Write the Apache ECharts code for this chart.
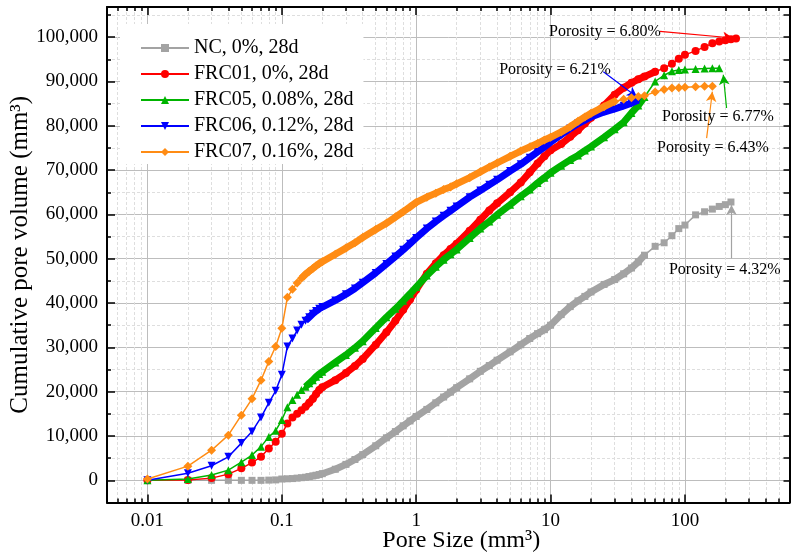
<!DOCTYPE html>
<html><head><meta charset="utf-8">
<script src="https://cdn.jsdelivr.net/npm/echarts@6/dist/echarts.min.js"></script>
<style>html,body{margin:0;padding:0;background:#fff}#c{width:797px;height:557px}</style>
</head><body><div id="c"></div>
<script>
// Pore size (mm^3) sample positions
const poreSizes = [0.01,0.02,0.03,0.04,0.05,0.06,0.07,0.08,0.09,0.1,
  0.11,0.12,0.13,0.14,0.15,0.16,0.17,0.18,0.19,0.2,
  0.25,0.3,0.35,0.4,0.5,0.6,0.7,0.8,0.9,1,
  1.2,1.4,1.6,1.8,2,2.5,3,3.5,4,5,
  6,7,8,9,10,12,14,16,18,20,
  25,30,35,40,45,50,60,70,80,90,
  100,120,140,160,180,200,220,240];

// Cumulative pore volume, thousands of mm^3
const ncVolume = [0,0,0,0,0,0,0,0.05,0.1,0.3,
  0.35,0.4,0.5,0.6,0.7,0.85,1.0,1.15,1.3,1.5,
  2.5,3.6,4.7,5.8,7.8,9.6,11.0,12.3,13.4,14.4,
  16.0,17.5,18.8,19.9,20.9,22.9,24.6,25.9,27.1,29.0,
  30.6,32.0,33.1,34.0,35.0,37.4,39.2,40.5,41.5,42.5,
  44.2,45.3,46.6,47.9,49.3,50.8,52.8,53.6,55.2,56.8,
  57.6,59.9,60.6,61.2,61.8,62.2,62.8];
const frc01Volume = [0,0.1,0.5,1.4,2.7,4.0,5.3,7.2,8.7,10.5,
  12.8,14.2,15.0,15.8,16.6,17.5,18.4,19.5,20.4,21.0,
  22.6,24.2,25.8,27.4,30.6,33.4,36.0,38.5,40.8,43.0,
  46.6,49.0,50.8,52.2,53.4,56.3,58.8,60.9,62.5,65.0,
  67.2,69.5,71.5,73.1,74.5,75.9,77.5,79.0,80.5,81.8,
  84.6,87.0,88.6,89.7,90.5,91.1,92.2,93.0,94.0,95.1,
  96.0,96.9,97.8,98.6,99.0,99.3,99.5,99.7];
const frc05Volume = [0,0.3,1.2,2.3,4.1,5.7,7.6,9.8,11.2,13.6,
  16.5,18.1,19.3,20.4,21.1,21.9,22.6,23.4,24.0,24.5,
  26.6,28.3,29.9,31.4,34.4,36.8,38.7,40.5,42.1,43.6,
  46.2,48.2,49.8,51.0,52.1,54.7,56.8,58.4,59.9,62.2,
  64.1,65.6,67.1,68.3,69.4,71.0,72.3,73.3,74.4,75.3,
  77.4,79.2,80.8,82.9,84.6,86.5,90.0,91.4,92.3,92.6,
  92.7,92.8,92.9,93.0,93.0];
const frc06Volume = [0,1.6,3.3,5.3,8.4,11.0,14.2,17.5,20.2,23.8,
  30.2,32.0,33.8,35.1,36.0,36.8,37.6,38.2,38.7,39.1,
  40.6,42.0,43.3,44.6,46.8,48.8,50.5,52.0,53.4,54.7,
  56.8,58.4,59.7,60.8,61.8,63.9,65.4,66.7,67.8,69.8,
  71.3,72.8,74.1,75.2,76.3,78.0,79.4,80.5,81.3,82.0,
  83.1,83.8,84.5,85.1,85.8];
const frc07Volume = [0.3,3.2,6.8,10.2,14.7,18.4,22.6,26.8,30.2,34.3,
  41.3,43.1,44.5,45.6,46.5,47.2,47.8,48.4,48.9,49.3,
  51.0,52.4,53.6,54.8,56.6,58.0,59.4,60.6,61.7,62.7,
  63.9,64.8,65.6,66.2,66.9,68.3,69.6,70.7,71.6,73.1,
  74.3,75.2,76.0,76.8,77.4,78.6,79.8,81.0,82.0,82.8,
  84.3,85.5,86.0,86.3,86.6,86.8,87.6,88.2,88.5,88.6,
  88.7,88.8,88.9,88.9];

const seriesNames = ['NC, 0%, 28d','FRC01, 0%, 28d','FRC05, 0.08%, 28d','FRC06, 0.12%, 28d','FRC07, 0.16%, 28d'];
const porosityLabels = ['Porosity = 4.32%','Porosity = 6.80%','Porosity = 6.77%','Porosity = 6.21%','Porosity = 6.43%'];
// annotation anchors in data units: [size, volume]
const labelAt = [[198,47600],[25.4,101200],[176,82100],[10.8,92600],[161.5,75100]];
const arrowFrom = [[222,50100],[65.2,101300],[204,84000],[24.7,92200],[145,77200]];
const arrowTo = [[222,62100],[228,99800],[193,91500],[44,86500],[160,87700]];

const volumes = [ncVolume, frc01Volume, frc05Volume, frc06Volume, frc07Volume];
const colors = ['#a3a3a3','#ff0000','#00b400','#0000ff','#ff8c14'];
const symbols = ['rect','circle','triangle','triangle','diamond'];
const symbolSizes = [7,8,8,8,9];
const symbolRotates = [0,0,0,180,0];
const bandStart = [0.15,0.15,0.15,0.15,0.14];
const bandEnd = [50,60,50,45,30];

const FONT = 'Liberation Serif';
const series = [];
volumes.forEach((vals, k) => {
  const pts = vals.map((v, i) => [poreSizes[i], v * 1000]);
  const band = pts.filter(p => p[0] >= bandStart[k] && p[0] <= bandEnd[k]);
  series.push({
    type: 'line', name: seriesNames[k] + ' band', data: band, symbol: 'none',
    lineStyle: { color: colors[k], width: 7 }, silent: true, z: 2 + k
  });
  series.push({
    type: 'line', name: seriesNames[k], data: pts, symbol: symbols[k], symbolSize: symbolSizes[k],
    symbolRotate: symbolRotates[k], showAllSymbol: true,
    itemStyle: { color: colors[k] }, lineStyle: { color: colors[k], width: 1.5 }, z: 2 + k,
    markLine: {
      silent: true, symbol: ['none', 'arrow'], symbolSize: [8, 10], animation: false,
      lineStyle: { color: colors[k], width: 1.2, type: 'solid' }, label: { show: false },
      data: [[{ coord: arrowFrom[k] }, { coord: arrowTo[k] }]]
    },
    markPoint: {
      silent: true, symbol: 'rect', symbolSize: 1, itemStyle: { color: 'rgba(0,0,0,0)' },
      label: { show: true, position: 'inside', formatter: porosityLabels[k], color: '#000', fontFamily: FONT, fontSize: 16 },
      data: [{ coord: labelAt[k] }]
    }
  });
});

const gridMajor = { show: true, lineStyle: { color: '#bdbdbd', width: 1 } };
const gridMinor = { show: true, lineStyle: { color: '#dedede', width: 1, type: [3, 2] } };
const frameLine = { show: true, onZero: false, lineStyle: { color: '#000', width: 2 } };

const chart = echarts.init(document.getElementById('c'), null, { renderer: 'canvas' });
chart.setOption({
  animation: false,
  backgroundColor: '#fff',
  grid: { left: 107, right: 7.5, top: 7, bottom: 54.5, containLabel: false, outerBoundsMode: 'none' },
  legend: {
    orient: 'vertical', left: 120, top: 24, data: seriesNames,
    backgroundColor: '#fff', padding: [14, 10, 2, 20],
    itemWidth: 48, itemHeight: 10, itemGap: 6,
    textStyle: { fontFamily: FONT, fontSize: 20, color: '#000', lineHeight: 20 }
  },
  xAxis: [{
    type: 'log', logBase: 10, min: 0.005, max: 600, position: 'bottom',
    name: 'Pore Size (mm³)', nameLocation: 'middle', nameGap: 26, nameMoveOverlap: false,
    nameTextStyle: { fontFamily: FONT, fontSize: 24, color: '#000', padding: [0, 0, 0, 26] },
    axisLine: frameLine,
    axisTick: { show: true, inside: true, length: 8, lineStyle: { color: '#000', width: 1.5 } },
    minorTick: { show: true, splitNumber: 9, length: 4, lineStyle: { color: '#000', width: 1.5 } },
    splitLine: gridMajor, minorSplitLine: gridMinor,
    axisLabel: { fontFamily: FONT, fontSize: 19, color: '#000', margin: 9, showMinLabel: false, showMaxLabel: false }
  }, {
    type: 'log', logBase: 10, min: 0.005, max: 600, position: 'top',
    axisLine: frameLine,
    axisTick: { show: true, inside: true, length: 8, lineStyle: { color: '#000', width: 1.5 } },
    minorTick: { show: true, splitNumber: 9, length: 4, lineStyle: { color: '#000', width: 1.5 } },
    splitLine: { show: false }, axisLabel: { show: false }
  }],
  yAxis: [{
    type: 'value', min: -5000, max: 106800, splitNumber: 11, position: 'left',
    name: 'Cumulative pore volume (mm³)', nameLocation: 'middle', nameGap: 74, nameMoveOverlap: false,
    nameTextStyle: { fontFamily: FONT, fontSize: 25, color: '#000' },
    axisLine: frameLine,
    axisTick: { show: true, inside: true, length: 8, lineStyle: { color: '#000', width: 1.5 } },
    minorTick: { show: true, splitNumber: 2, length: 4, lineStyle: { color: '#000', width: 1.5 } },
    splitLine: gridMajor, minorSplitLine: gridMinor,
    axisLabel: { fontFamily: FONT, fontSize: 19, color: '#000', margin: 9, showMinLabel: false, showMaxLabel: false,
      formatter: v => v.toLocaleString('en-US') }
  }, {
    type: 'value', min: -5000, max: 106800, splitNumber: 11, position: 'right',
    axisLine: frameLine,
    axisTick: { show: true, inside: true, length: 6, lineStyle: { color: '#000', width: 1.5 } },
    minorTick: { show: true, splitNumber: 2, length: 6, lineStyle: { color: '#000', width: 1.5 } },
    splitLine: { show: false }, axisLabel: { show: false }
  }],
  series: series
});
</script>
</body></html>
